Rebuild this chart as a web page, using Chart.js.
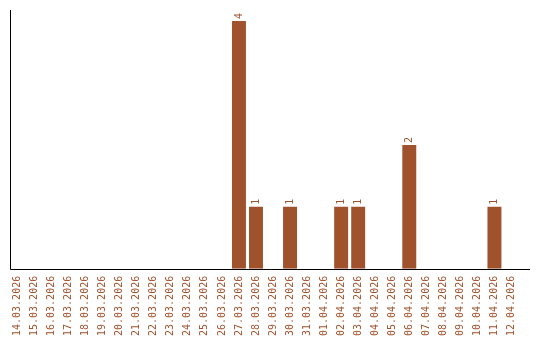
<!DOCTYPE html>
<html>
<head>
<meta charset="utf-8">
<script src="https://cdn.jsdelivr.net/npm/chart.js@4/dist/chart.umd.min.js"></script>
<style>
  body { margin: 0; background: #fff; }
  canvas { display: block; }
</style>
</head>
<body>
<canvas id="chart1" width="540" height="340"></canvas>
<script>
  // dates shown on the x axis
  let days = ['14.03.2026','15.03.2026','16.03.2026','17.03.2026','18.03.2026','19.03.2026',
    '20.03.2026','21.03.2026','22.03.2026','23.03.2026','24.03.2026','25.03.2026','26.03.2026',
    '27.03.2026','28.03.2026','29.03.2026','30.03.2026','31.03.2026','01.04.2026','02.04.2026',
    '03.04.2026','04.04.2026','05.04.2026','06.04.2026','07.04.2026','08.04.2026','09.04.2026',
    '10.04.2026','11.04.2026','12.04.2026'];
  // count per day
  let counts = [0,0,0,0,0,0,0,0,0,0,0,0,0,4,1,0,1,0,0,1,1,0,0,2,0,0,0,0,1,0];

  let brown = '#a0522d';
  let monoFont = '10px "DejaVu Sans Mono", monospace';

  // value text above each bar, rotated like the tick labels
  let barValues = {
    id: 'barValues',
    afterDatasetsDraw(chart) {
      let ctx = chart.ctx;
      let meta = chart.getDatasetMeta(0);
      ctx.save();
      ctx.font = monoFont;
      ctx.fillStyle = brown;
      ctx.textAlign = 'left';
      ctx.textBaseline = 'middle';
      meta.data.forEach(function (bar, i) {
        if (!counts[i]) return;
        ctx.save();
        ctx.translate(bar.x, bar.y - 2);
        ctx.rotate(-Math.PI / 2);
        ctx.fillText(String(counts[i]), 0, 0);
        ctx.restore();
      });
      ctx.restore();
    }
  };

  // the two axis lines
  let axisLines = {
    id: 'axisLines',
    afterDraw(chart) {
      let ctx = chart.ctx;
      let a = chart.chartArea;
      ctx.save();
      ctx.strokeStyle = '#000';
      ctx.lineWidth = 1;
      ctx.beginPath();
      ctx.moveTo(10.5, 10);
      ctx.lineTo(10.5, Math.round(a.bottom) + 0.5);
      ctx.lineTo(530, Math.round(a.bottom) + 0.5);
      ctx.stroke();
      ctx.restore();
    }
  };

  new Chart(document.getElementById('chart1'), {
    type: 'bar',
    data: {
      labels: days,
      datasets: [{
        data: counts,
        backgroundColor: brown,
        borderWidth: 0,
        categoryPercentage: 1,
        barPercentage: 0.82
      }]
    },
    options: {
      responsive: false,
      animation: false,
      layout: { padding: { left: 9, right: 20, top: 21, bottom: -3 } },
      plugins: { legend: { display: false }, tooltip: { enabled: false } },
      scales: {
        x: {
          grid: { display: false, drawTicks: false },
          border: { display: false },
          ticks: {
            color: brown,
            font: { family: '"DejaVu Sans Mono", monospace', size: 10 },
            minRotation: 90,
            maxRotation: 90,
            autoSkip: false,
            padding: 7
          }
        },
        y: {
          display: false,
          min: 0,
          max: 4
        }
      }
    },
    plugins: [barValues, axisLines]
  });
</script>
</body>
</html>
